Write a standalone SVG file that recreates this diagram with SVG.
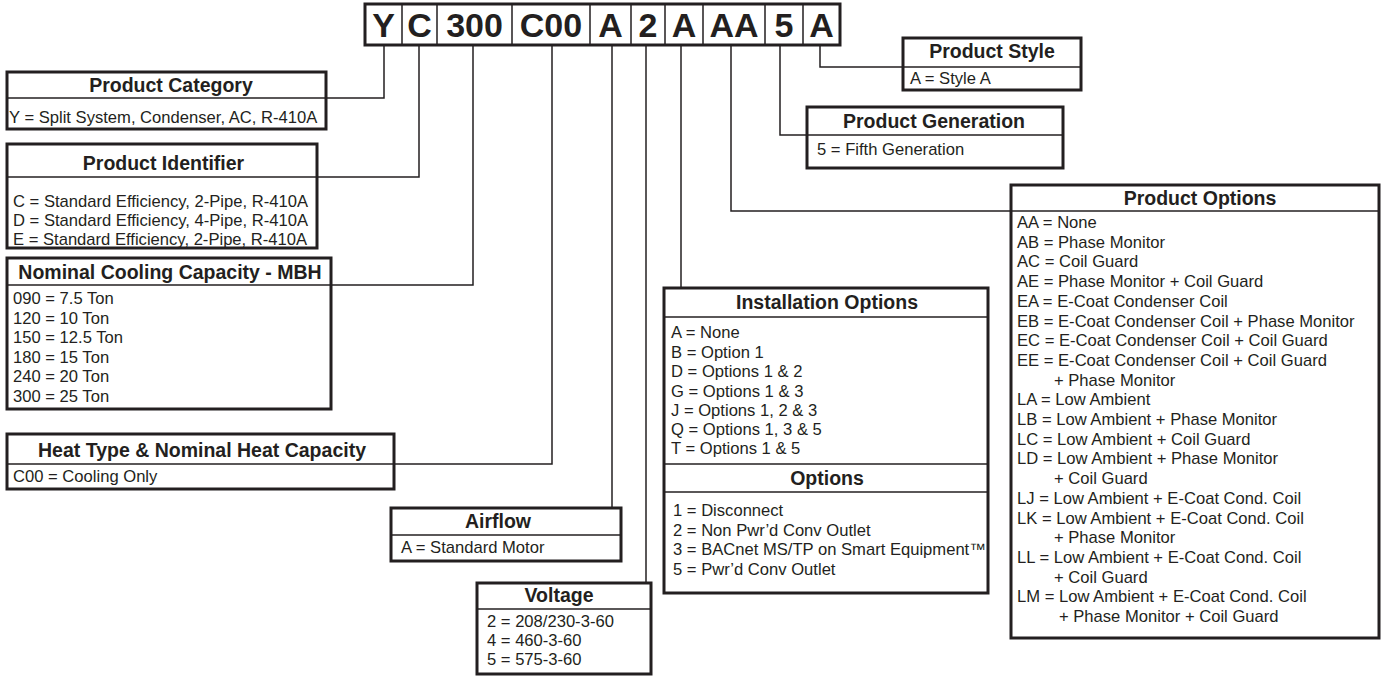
<svg xmlns="http://www.w3.org/2000/svg" width="1381" height="677" viewBox="0 0 1381 677">
<style>
.box{fill:#fff;stroke:#231f20;stroke-width:3}
.div{stroke:#231f20;stroke-width:1.5;fill:none}
.con{stroke:#231f20;stroke-width:1.5;fill:none}
.h{font-family:"Liberation Sans",Arial,sans-serif;font-weight:bold;font-size:19.5px;fill:#231f20;text-anchor:middle}
.t{font-family:"Liberation Sans",Arial,sans-serif;font-size:16.6px;fill:#231f20}
.code{font-family:"Liberation Sans",Arial,sans-serif;font-weight:bold;font-size:34px;fill:#231f20;text-anchor:middle}
</style>
<rect width="1381" height="677" fill="#fff"/>
<g id="connectors">
<polyline class="con" points="384,46 384,98 326,98"/>
<polyline class="con" points="419,46 419,177 317,177"/>
<polyline class="con" points="473,46 473,285 331,285"/>
<polyline class="con" points="552,46 552,464 394,464"/>
<polyline class="con" points="612,46 612,508"/>
<polyline class="con" points="646,46 646,583"/>
<polyline class="con" points="681,46 681,288"/>
<polyline class="con" points="731,46 731,211 1011,211"/>
<polyline class="con" points="780,46 780,135 807,135"/>
<polyline class="con" points="820,46 820,67 903,67"/>
</g>
<g id="code">
<rect class="box" x="365" y="4" width="475" height="41"/>
<path class="div" d="M402,4V45M437,4V45M512,4V45M590,4V45M631,4V45M665,4V45M703,4V45M765,4V45M803,4V45"/>
<text class="code" x="383.5" y="37">Y</text>
<text class="code" x="419.5" y="37">C</text>
<text class="code" x="474.5" y="37">300</text>
<text class="code" x="551" y="37">C00</text>
<text class="code" x="610.5" y="37">A</text>
<text class="code" x="648" y="37">2</text>
<text class="code" x="684" y="37">A</text>
<text class="code" x="734" y="37">AA</text>
<text class="code" x="784" y="37">5</text>
<text class="code" x="821.5" y="37">A</text>
</g>
<g id="product-category">
<rect class="box" x="7" y="72" width="319" height="57"/>
<line class="div" x1="7" y1="98" x2="326" y2="98"/>
<text class="h" x="171" y="92">Product Category</text>
<text class="t" x="9" y="123">Y = Split System, Condenser, AC, R-410A</text>
</g>
<g id="product-identifier">
<rect class="box" x="7" y="144" width="310" height="104"/>
<line class="div" x1="7" y1="177" x2="317" y2="177"/>
<text class="h" x="163.5" y="170">Product Identifier</text>
<text class="t" x="13" y="207">C = Standard Efficiency, 2-Pipe, R-410A</text>
<text class="t" x="13" y="226">D = Standard Efficiency, 4-Pipe, R-410A</text>
<text class="t" x="13" y="245">E = Standard Efficiency, 2-Pipe, R-410A</text>
</g>
<g id="nominal-cooling">
<rect class="box" x="7" y="258" width="324" height="151"/>
<line class="div" x1="7" y1="285" x2="331" y2="285"/>
<text class="h" x="170" y="279">Nominal Cooling Capacity - MBH</text>
<text class="t" x="13" y="304">090 = 7.5 Ton</text>
<text class="t" x="13" y="323.5">120 = 10 Ton</text>
<text class="t" x="13" y="343">150 = 12.5 Ton</text>
<text class="t" x="13" y="362.5">180 = 15 Ton</text>
<text class="t" x="13" y="382">240 = 20 Ton</text>
<text class="t" x="13" y="401.5">300 = 25 Ton</text>
</g>
<g id="heat-type">
<rect class="box" x="7" y="434" width="387" height="55"/>
<line class="div" x1="7" y1="464" x2="394" y2="464"/>
<text class="h" x="202" y="457">Heat Type &amp; Nominal Heat Capacity</text>
<text class="t" x="13" y="482">C00 = Cooling Only</text>
</g>
<g id="airflow">
<rect class="box" x="391" y="508" width="230" height="53"/>
<line class="div" x1="391" y1="535" x2="621" y2="535"/>
<text class="h" x="498" y="528">Airflow</text>
<text class="t" x="401" y="553">A = Standard Motor</text>
</g>
<g id="voltage">
<rect class="box" x="477" y="583" width="174" height="91"/>
<line class="div" x1="477" y1="609" x2="651" y2="609"/>
<text class="h" x="559" y="602">Voltage</text>
<text class="t" x="487" y="627">2 = 208/230-3-60</text>
<text class="t" x="487" y="646">4 = 460-3-60</text>
<text class="t" x="487" y="665">5 = 575-3-60</text>
</g>
<g id="installation-options">
<rect class="box" x="664" y="288" width="324" height="305"/>
<line class="div" x1="664" y1="317" x2="988" y2="317"/>
<line class="div" x1="664" y1="464" x2="988" y2="464"/>
<line class="div" x1="664" y1="492" x2="988" y2="492"/>
<text class="h" x="827" y="309">Installation Options</text>
<text class="t" x="671" y="338">A = None</text>
<text class="t" x="671" y="358">B = Option 1</text>
<text class="t" x="671" y="377">D = Options 1 &amp; 2</text>
<text class="t" x="671" y="397">G = Options 1 &amp; 3</text>
<text class="t" x="671" y="416">J = Options 1, 2 &amp; 3</text>
<text class="t" x="671" y="435">Q = Options 1, 3 &amp; 5</text>
<text class="t" x="671" y="454">T = Options 1 &amp; 5</text>
<text class="h" x="827" y="485">Options</text>
<text class="t" x="673" y="516">1 = Disconnect</text>
<text class="t" x="673" y="536">2 = Non Pwr’d Conv Outlet</text>
<text class="t" x="673" y="555">3 = BACnet MS/TP on Smart Equipment™</text>
<text class="t" x="673" y="575">5 = Pwr’d Conv Outlet</text>
</g>
<g id="product-style">
<rect class="box" x="903" y="38" width="178" height="52"/>
<line class="div" x1="903" y1="67" x2="1081" y2="67"/>
<text class="h" x="992" y="58">Product Style</text>
<text class="t" x="910" y="84">A = Style A</text>
</g>
<g id="product-generation">
<rect class="box" x="807" y="107" width="256" height="61"/>
<line class="div" x1="807" y1="135" x2="1063" y2="135"/>
<text class="h" x="934" y="128">Product Generation</text>
<text class="t" x="817" y="155">5 = Fifth Generation</text>
</g>
<g id="product-options">
<rect class="box" x="1011" y="185" width="368" height="453"/>
<line class="div" x1="1011" y1="211" x2="1379" y2="211"/>
<text class="h" x="1200" y="205">Product Options</text>
<text class="t" x="1017" y="228">AA = None</text>
<text class="t" x="1017" y="247.7">AB = Phase Monitor</text>
<text class="t" x="1017" y="267.4">AC = Coil Guard</text>
<text class="t" x="1017" y="287.1">AE = Phase Monitor + Coil Guard</text>
<text class="t" x="1017" y="306.8">EA = E-Coat Condenser Coil</text>
<text class="t" x="1017" y="326.5">EB = E-Coat Condenser Coil + Phase Monitor</text>
<text class="t" x="1017" y="346.2">EC = E-Coat Condenser Coil + Coil Guard</text>
<text class="t" x="1017" y="365.9">EE = E-Coat Condenser Coil + Coil Guard</text>
<text class="t" x="1054" y="385.6">+ Phase Monitor</text>
<text class="t" x="1017" y="405.3">LA = Low Ambient</text>
<text class="t" x="1017" y="425">LB = Low Ambient + Phase Monitor</text>
<text class="t" x="1017" y="444.7">LC = Low Ambient + Coil Guard</text>
<text class="t" x="1017" y="464.4">LD = Low Ambient + Phase Monitor</text>
<text class="t" x="1054" y="484.1">+ Coil Guard</text>
<text class="t" x="1017" y="503.8">LJ = Low Ambient + E-Coat Cond. Coil</text>
<text class="t" x="1017" y="523.5">LK = Low Ambient + E-Coat Cond. Coil</text>
<text class="t" x="1054" y="543.2">+ Phase Monitor</text>
<text class="t" x="1017" y="562.9">LL = Low Ambient + E-Coat Cond. Coil</text>
<text class="t" x="1054" y="582.6">+ Coil Guard</text>
<text class="t" x="1017" y="602.3">LM = Low Ambient + E-Coat Cond. Coil</text>
<text class="t" x="1059" y="622">+ Phase Monitor + Coil Guard</text>
</g>
</svg>
